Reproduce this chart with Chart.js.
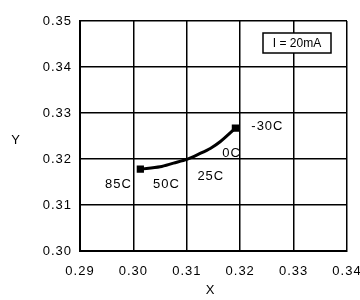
<!DOCTYPE html>
<html>
<head>
<meta charset="utf-8">
<script src="https://cdn.jsdelivr.net/npm/chart.js@4/dist/chart.umd.min.js"></script>
<style>
html,body{margin:0;padding:0;background:#fff;}
#wrap{width:360px;height:300px;}
</style>
</head>
<body>
<div id="wrap"><canvas id="c" width="360" height="300"></canvas></div>
<script>
// Chromaticity curve (I = 20mA)
const curveX = [0.3013, 0.3050, 0.3075, 0.3100, 0.3125, 0.3144, 0.3163, 0.3191];
const curveY = [0.3178, 0.3183, 0.3191, 0.3199, 0.3212, 0.3223, 0.3238, 0.3267];
// temperature marks along the curve
const tempLabels = ['85C', '50C', '25C', '0C', '-30C'];
const tempX = [0.3013, 0.3060, 0.3100, 0.3150, 0.3191];
const tempY = [0.3178, 0.3186, 0.3199, 0.3228, 0.3267];
const xTicks = [0.29, 0.30, 0.31, 0.32, 0.33, 0.34];
const yTicks = [0.30, 0.31, 0.32, 0.33, 0.34, 0.35];
const legendText = 'I = 20mA';
const xTitle = 'X';
const yTitle = 'Y';

const FONT = '"Liberation Sans", Arial, sans-serif';

// label offsets (pixels) relative to their curve anchor
const labelOffsets = [
  [-22, 15], [1, 19], [24, 17], [18, 7], [32, -2]
];

const overlay = {
  id: 'overlay',
  beforeDraw(chart) {
    chart.ctx.letterSpacing = '1px';
  },
  afterDraw(chart) {
    const ctx = chart.ctx;
    const xs = chart.scales.x, ys = chart.scales.y;
    ctx.save();
    ctx.letterSpacing = '1px';
    ctx.fillStyle = '#000';
    ctx.font = '13px ' + FONT;
    ctx.textAlign = 'center';
    ctx.textBaseline = 'middle';
    // temperature labels
    for (let i = 0; i < tempLabels.length; i++) {
      const px = xs.getPixelForValue(tempX[i]) + labelOffsets[i][0];
      const py = ys.getPixelForValue(tempY[i]) + labelOffsets[i][1];
      ctx.fillText(tempLabels[i], px, py);
    }
    // axis titles
    ctx.fillText(xTitle, (chart.chartArea.left + chart.chartArea.right) / 2 - 3, 290);
    ctx.fillText(yTitle, 16, (chart.chartArea.top + chart.chartArea.bottom) / 2 + 4);
    // legend box
    const bx = 263, by = 33, bw = 68, bh = 20;
    ctx.fillStyle = '#fff';
    ctx.fillRect(bx, by, bw, bh);
    ctx.strokeStyle = '#000';
    ctx.lineWidth = 1.5;
    ctx.strokeRect(bx, by, bw, bh);
    ctx.fillStyle = '#000';
    ctx.letterSpacing = '0px';
    ctx.font = '12px ' + FONT;
    ctx.fillText(legendText, bx + bw / 2, by + bh / 2 + 1);
    ctx.restore();
  }
};

new Chart(document.getElementById('c'), {
  type: 'scatter',
  data: {
    datasets: [{
      data: curveX.map((x, i) => ({x: x, y: curveY[i]})),
      showLine: true,
      borderColor: '#000',
      backgroundColor: '#000',
      borderWidth: 3,
      pointStyle: 'rect',
      pointRadius: [3, 0, 0, 0, 0, 0, 0, 3],
      tension: 0.3
    }]
  },
  options: {
    responsive: false,
    animation: false,
    layout: { padding: { top: 21, right: 13, left: 0, bottom: 0 } },
    plugins: { legend: { display: false }, tooltip: { enabled: false } },
    scales: {
      x: {
        type: 'linear', min: 0.29, max: 0.34,
        afterBuildTicks: s => { s.ticks = xTicks.map(v => ({value: v})); },
        afterFit: s => { s.height = 49; s.paddingLeft = 0; s.paddingRight = 0; },
        grid: { color: '#000', lineWidth: 1.5, drawTicks: false },
        border: { color: '#000', width: 2 },
        ticks: { color: '#000', padding: 13, maxRotation: 0, font: { family: FONT, size: 13 },
          callback: v => v.toFixed(2) }
      },
      y: {
        type: 'linear', min: 0.30, max: 0.35,
        afterBuildTicks: s => { s.ticks = yTicks.map(v => ({value: v})); },
        afterFit: s => { s.width = 80; s.paddingTop = 0; s.paddingBottom = 0; },
        grid: { color: '#000', lineWidth: 1.5, drawTicks: false },
        border: { color: '#000', width: 2 },
        ticks: { color: '#000', padding: 8, font: { family: FONT, size: 13 },
          callback: v => v.toFixed(2) }
      }
    }
  },
  plugins: [overlay]
});
</script>
</body>
</html>
